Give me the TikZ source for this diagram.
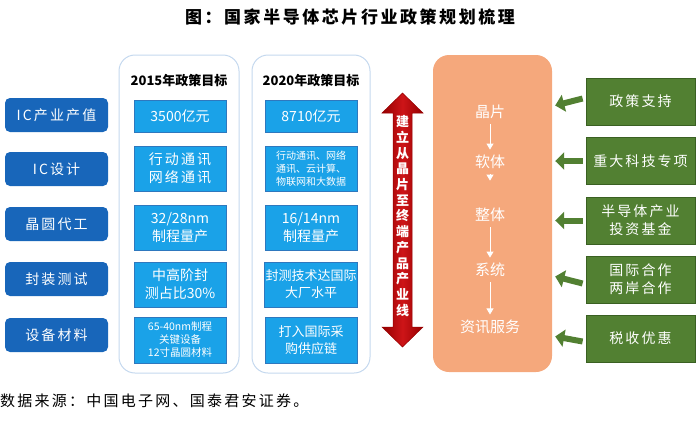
\documentclass[tikz,border=0pt]{standalone}
\usepackage{fontspec}
\setmainfont{Noto Sans CJK SC}
\newfontfamily\spaced[LetterSpace=15]{Noto Sans CJK SC}
\usetikzlibrary{arrows.meta, calc}
\definecolor{navyblue}{RGB}{24,102,186}
\definecolor{cellblue}{RGB}{26,162,232}
\definecolor{cellline}{RGB}{46,120,190}
\definecolor{colline}{RGB}{196,216,238}
\definecolor{salmon}{RGB}{245,168,124}
\definecolor{leafgreen}{RGB}{82,128,50}
\definecolor{darkleaf}{RGB}{58,96,34}
\definecolor{deepred}{RGB}{150,0,0}
\definecolor{brightred}{RGB}{205,20,24}

\begin{document}
\begin{tikzpicture}[x=1pt, y=-1pt,
  leftbox/.style={fill=navyblue, rounded corners=5pt, minimum width=103pt, minimum height=34pt,
    text=white, font=\spaced\fontsize{14}{17}\selectfont},
  colbox/.style={draw=colline, line width=1pt, rounded corners=16pt},
  cellbox/.style={fill=cellblue, draw=cellline, line width=0.6pt, minimum width=92pt,
    text=white, align=center, inner sep=1pt},
  greenbox/.style={fill=leafgreen, draw=darkleaf, line width=0.8pt, minimum width=109pt,
    minimum height=47pt, text=white, align=center, font=\spaced\fontsize{14}{18}\selectfont},
  garrow/.style={leafgreen, line width=6pt, -{Triangle[length=9pt, width=17pt]}},
  warrow/.style={white, line width=0.9pt, -{Triangle[length=6pt, width=7pt]}, shorten <=2pt, shorten >=2pt},
  steptext/.style={text=white, font=\fontsize{15}{18}\selectfont}]
  \useasboundingbox (0,0) rectangle (700,421);
  % Title
  \node[font=\bfseries\spaced\fontsize{17}{20}\selectfont] (title) at (350,17) {图：国家半导体芯片行业政策规划梳理};
  % Industry segments
  \foreach \i/\y/\t in {1/115/IC产业产值, 2/169/IC设计, 3/224/晶圆代工, 4/279/封装测试, 5/335/设备材料} {
    \node[leftbox] (seg\i) at (56.5,\y) {\t};
  }
  % Policy target columns
  \draw[colbox] (119,55) rectangle (239,373);
  \draw[colbox] (252,55) rectangle (370,373);
  \node[font=\bfseries\fontsize{13}{15}\selectfont] (head15) at (179,81) {2015年政策目标};
  \node[font=\bfseries\fontsize{13}{15}\selectfont] (head20) at (311,81) {2020年政策目标};
  % 2015
  \node[cellbox, minimum height=32pt, font=\fontsize{14}{17}\selectfont] (a1) at (180,116) {3500亿元};
  \node[cellbox, minimum height=45pt, font=\spaced\fontsize{14}{18}\selectfont] (a2) at (180,168.5) {行动通讯\\网络通讯};
  \node[cellbox, minimum height=45pt, font=\fontsize{14}{18}\selectfont] (a3) at (180,227.5) {32/28nm\\制程量产};
  \node[cellbox, minimum height=45pt, font=\fontsize{14}{18}\selectfont] (a4) at (180,284.5) {中高阶封\\测占比30\%};
  \node[cellbox, minimum height=46pt, font=\fontsize{10.5}{13}\selectfont] (a5) at (180,340) {65-40nm制程\\关键设备\\12寸晶圆材料};
  % 2020
  \node[cellbox, minimum height=32pt, font=\fontsize{14}{17}\selectfont] (b1) at (311,116) {8710亿元};
  \node[cellbox, minimum height=45pt, font=\fontsize{10}{13}\selectfont] (b2) at (311,168.5) {行动通讯、网络\\通讯、云计算、\\物联网和大数据};
  \node[cellbox, minimum height=45pt, font=\fontsize{14}{18}\selectfont] (b3) at (311,227.5) {16/14nm\\制程量产};
  \node[cellbox, minimum height=45pt, font=\fontsize{13}{17}\selectfont] (b4) at (311,284.5) {封测技术达国际\\大厂水平};
  \node[cellbox, minimum height=46pt, font=\fontsize{13}{17}\selectfont] (b5) at (311,340) {打入国际采\\购供应链};
  % Double arrow
  \shade[left color=deepred, right color=deepred, middle color=brightred, draw=deepred, line width=0.5pt]
    (402.5,93) -- (423,113) -- (412,113) -- (412,327) -- (423,327) -- (402.5,347)
    -- (382,327) -- (393,327) -- (393,113) -- (382,113) -- cycle;
  \node[text=white, font=\bfseries\fontsize{13}{15.7}\selectfont, align=center] (chainline) at (402.5,216)
    {建\\立\\从\\晶\\片\\至\\终\\端\\产\\品\\产\\业\\线};
  % Value chain
  \node[fill=salmon, rounded corners=16pt, minimum width=119pt, minimum height=317pt] (chain) at (492.5,213.5) {};
  \foreach \i/\y/\t in {1/112/晶片, 2/162/软体, 3/215/整体, 4/270/系统, 5/327/资讯服务} {
    \node[steptext] (t\i) at (490,\y) {\t};
  }
  \draw[warrow] (t1) -- (t2);
  \draw[warrow, shorten >=24pt] (t2) -- (t3);
  \draw[warrow] (t3) -- (t4);
  \draw[warrow] (t4) -- (t5);
  % Support measures
  \foreach \i/\y/\t in {1/101.5/政策支持, 2/161/重大科技专项, 3/220.5/半导体产业\\投资基金, 4/279.5/国际合作\\两岸合作, 5/338.5/税收优惠} {
    \node[greenbox] (g\i) at (640.5,\y) {\t};
  }
  \foreach \i/\a/\b in {1/-3/4, 2/0/0, 3/0/0, 4/4/-3, 5/3/-2} {
    \draw[garrow] ($(g\i.west)+(-3,\a)$) -- ($(chain.east |- g\i.west)+(3,\b)$);
  }
  % Source
  \node[anchor=west, font=\spaced\fontsize{15}{18}\selectfont, inner sep=0pt] (source) at (0,401) {数据来源：中国电子网、国泰君安证券。};
\end{tikzpicture}
\end{document}
